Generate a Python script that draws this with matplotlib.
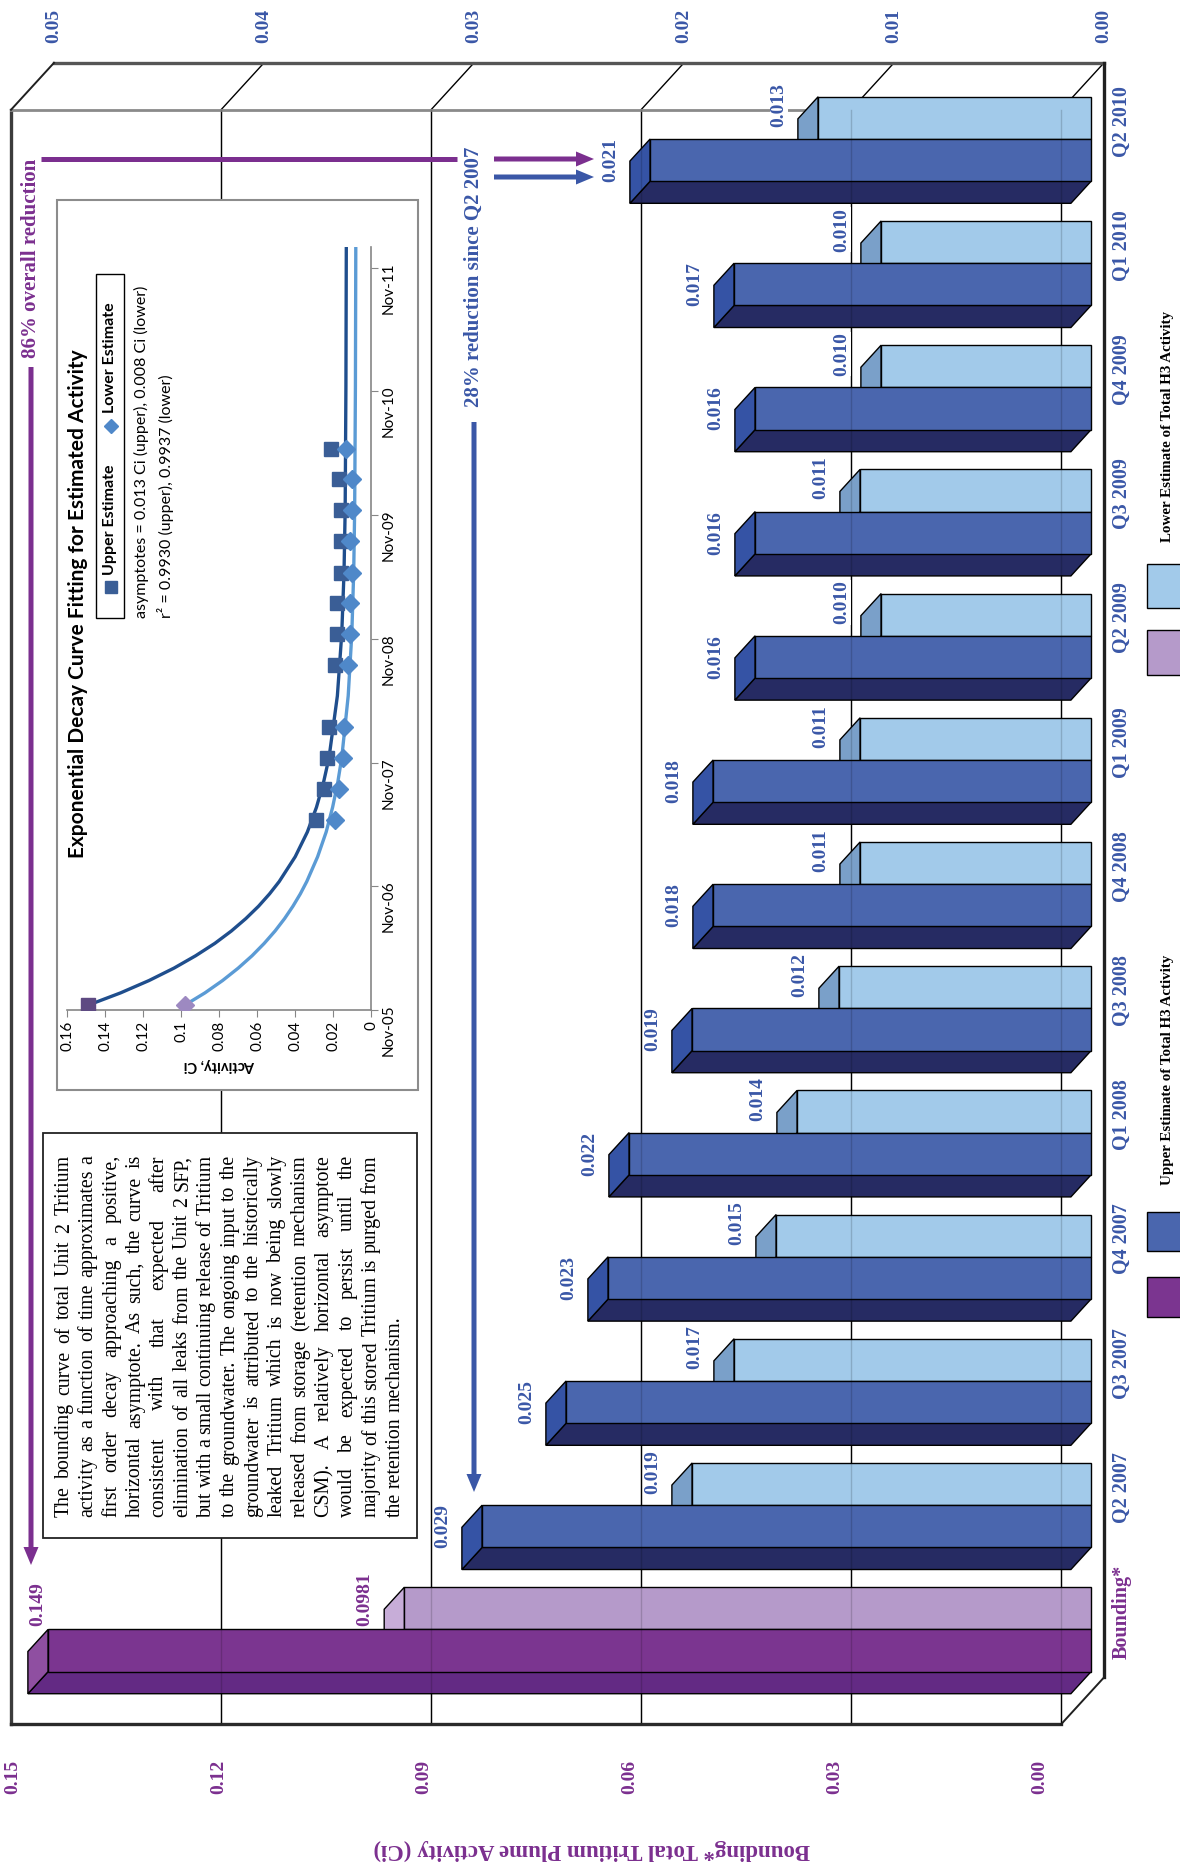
import datetime as dt
import numpy as np
import matplotlib
matplotlib.use("Agg")
import matplotlib.pyplot as plt
import matplotlib.dates as mdates
from matplotlib.patches import Polygon, Rectangle

# ---------------- data ----------------
categories = ["Bounding*", "Q2 2007", "Q3 2007", "Q4 2007", "Q1 2008", "Q3 2008",
              "Q4 2008", "Q1 2009", "Q2 2009", "Q3 2009", "Q4 2009", "Q1 2010", "Q2 2010"]
bounding_upper = 0.149
bounding_lower = 0.0981
quarter_upper = [0.029, 0.025, 0.023, 0.022, 0.019, 0.018, 0.018, 0.016, 0.016, 0.016, 0.017, 0.021]
quarter_lower = [0.019, 0.017, 0.015, 0.014, 0.012, 0.011, 0.011, 0.010, 0.011, 0.010, 0.010, 0.013]
primary_ticks = [0.00, 0.03, 0.06, 0.09, 0.12, 0.15]
secondary_ticks = [0.00, 0.01, 0.02, 0.03, 0.04, 0.05]

# exponential decay fit inset
sample_dates = ["2005-11-15", "2007-05-15", "2007-08-15", "2007-11-15", "2008-02-15",
                "2008-08-15", "2008-11-15", "2009-02-15", "2009-05-15", "2009-08-15",
                "2009-11-15", "2010-02-15", "2010-05-15"]
fit_years = [0, 0.1, 0.2, 0.3, 0.4, 0.5, 0.6, 0.7, 0.8, 0.9, 1.0, 1.2, 1.4, 1.6, 1.8,
             2.0, 2.5, 3.0, 3.5, 4.0, 5.0, 6.13]
fit_upper = [0.149, 0.1318, 0.1168, 0.1037, 0.0923, 0.0822, 0.0735, 0.0659, 0.0592, 0.0534,
             0.0483, 0.0399, 0.0335, 0.0287, 0.0250, 0.0221, 0.0177, 0.0154, 0.0142, 0.0136,
             0.0132, 0.0130]
fit_lower = [0.0981, 0.0874, 0.0781, 0.0699, 0.0626, 0.0562, 0.0505, 0.0455, 0.0411, 0.0372,
             0.0338, 0.0281, 0.0236, 0.0202, 0.0175, 0.0154, 0.0120, 0.0101, 0.0091, 0.0086,
             0.0082, 0.0080]
inset_ticks = [0, 0.02, 0.04, 0.06, 0.08, 0.1, 0.12, 0.14, 0.16]

note_lines = [
    "The bounding curve of total Unit 2 Tritium",
    "activity as a function of time approximates a",
    "first order decay approaching a positive,",
    "horizontal asymptote. As such, the curve is",
    "consistent with that expected after",
    "elimination of all leaks from the Unit 2 SFP,",
    "but with a small continuing release of Tritium",
    "to the groundwater. The ongoing input to the",
    "groundwater is attributed to the historically",
    "leaked Tritium which is now being slowly",
    "released from storage (retention mechanism",
    "CSM). A relatively horizontal asymptote",
    "would be expected to persist until the",
    "majority of this stored Tritium is purged from",
    "the retention mechanism.",
]

# ---------------- styling ----------------
PURPLE = "#7B2F8F"
BLUE = "#3A57A7"
purple_dark = ("#7B3590", "#8F4FA1", "#632A84")    # front, end cap, side
purple_light = ("#B59ACA", "#C7ADD8", "#9C80B5")
blue_dark = ("#4A66AE", "#3553A5", "#262B63")
blue_light = ("#A2CAEA", "#7AA0C9", "#87AFD3")

plt.rcParams["font.family"] = ["Liberation Serif", "DejaVu Serif"]
SANS = ["Lato", "DejaVu Sans"]

W, H = 1180, 1864
fig = plt.figure(figsize=(W / 100, H / 100), dpi=100)
fig.patch.set_facecolor("white")

# chart geometry (the column chart is laid on its side)
VAL_PX = 7000.0       # pixels per Ci on the primary value axis
X0 = 1104.0           # pixel column of zero on the front plane
CAT_PX = 124.2        # pixels per category step
Y0 = 1615.3           # pixel row of the first category on the front plane
DX = 43 / VAL_PX      # depth shift, value units
DY = -47 / CAT_PX     # depth shift, category units
SEC = primary_ticks[-1] / secondary_ticks[-1]
D1, D2 = 0.30, 0.77   # depth range occupied by bars
HALF = 0.34           # bar thickness in category units
C_LO, C_HI = -0.5, len(categories) - 0.5
VMAX = primary_ticks[-1]

ax = fig.add_axes([0, 0, 1, 1])
ax.set_xlim(X0 / VAL_PX, (X0 - W) / VAL_PX)
ax.set_ylim((Y0 - H) / CAT_PX, Y0 / CAT_PX)
ax.axis("off")
ax2 = ax.twiny()
ax2.set_xlim(ax.get_xlim()[0] / SEC, ax.get_xlim()[1] / SEC)
ax2.axis("off")

ov = fig.add_axes([0, 0, 1, 1])
ov.set_xlim(0, W)
ov.set_ylim(H, 0)
ov.axis("off")
ov.set_zorder(2)


def P(v, c, d, s=1.0):
    return (v + d * DX / s, c + d * DY)


def seg(a, p, q, **kw):
    a.plot([p[0], q[0]], [p[1], q[1]], solid_capstyle="projecting", **kw)


# walls, floor and gridlines
for v in primary_ticks[:-1]:
    seg(ax, P(v, C_LO, 1), P(v, C_HI, 1), color="black", lw=1.0, zorder=1)
    seg(ax, P(v, C_HI, 1), P(v, C_HI, 0), color="black", lw=1.0, zorder=1)
seg(ax, P(VMAX, C_LO, 1), P(VMAX, C_HI, 1), color="#3c3c3c", lw=2.4, zorder=2)
seg(ax, P(0, C_LO, 1), P(VMAX, C_LO, 1), color="#2a2a2a", lw=2.4, zorder=2)
seg(ax, P(0, C_HI, 1), P(VMAX, C_HI, 1), color="#8a8a8a", lw=2.0, zorder=2)
seg(ax, P(0, C_HI, 0), P(VMAX, C_HI, 0), color="#555555", lw=2.4, zorder=2)
seg(ax, P(0, C_LO, 0), P(0, C_HI, 0), color="#202020", lw=2.4, zorder=2)
seg(ax, P(0, C_LO, 0), P(0, C_LO, 1), color="#202020", lw=1.4, zorder=2)
seg(ax, P(VMAX, C_HI, 0), P(VMAX, C_HI, 1), color="#202020", lw=1.4, zorder=2)


def bar3d(a, value, c0, c1, colors, s):
    faces = [
        ([P(0, c0, D1, s), P(value, c0, D1, s), P(value, c0, D2, s), P(0, c0, D2, s)], colors[2]),
        ([P(value, c0, D1, s), P(value, c1, D1, s), P(value, c1, D2, s), P(value, c0, D2, s)], colors[1]),
        ([P(0, c0, D1, s), P(value, c0, D1, s), P(value, c1, D1, s), P(0, c1, D1, s)], colors[0]),
    ]
    for pts, fc in faces:
        a.add_patch(Polygon(pts, closed=True, facecolor=fc, edgecolor="black",
                            lw=1.0, zorder=3, joinstyle="miter"))


LBL_GAP = 19 / VAL_PX
val_font = dict(fontsize=14, fontweight="bold", rotation=90, ha="center", va="center")

# bounding estimate (primary axis)
bar3d(ax, bounding_lower, 0, HALF, purple_light, 1.0)
bar3d(ax, bounding_upper, -HALF, 0, purple_dark, 1.0)
ax.text(bounding_lower + D2 * DX + LBL_GAP, HALF / 2 + D1 * DY + 0.07,
        f"{bounding_lower:g}", color=PURPLE, zorder=6, **val_font)
ax.text(bounding_upper + 0.535 * DX, 0.09, f"{bounding_upper:g}", color=PURPLE, zorder=6, **val_font)

# quarterly estimates (secondary axis)
for j, (u, l) in enumerate(zip(quarter_upper, quarter_lower), start=1):
    bar3d(ax2, l, j, j + HALF, blue_light, SEC)
    bar3d(ax2, u, j - HALF, j, blue_dark, SEC)
    ax2.text(l + (D2 * DX + LBL_GAP) / SEC, j + HALF / 2 + D1 * DY + 0.1, f"{l:.3f}",
             color=BLUE, zorder=6, bbox=dict(fc="white", ec="none", pad=0.3), **val_font)
    ax2.text(u + (D2 * DX + LBL_GAP) / SEC, j - HALF / 2 + D1 * DY, f"{u:.3f}",
             color=BLUE, zorder=6, **val_font)

# gridlines faintly showing through the bars
for v in primary_ticks[:-1]:
    seg(ax2, P(v / SEC, C_LO, 1, SEC), P(v / SEC, C_HI, 1, SEC), color="black", lw=1.0,
        alpha=0.16, zorder=5)

# category labels along the floor edge
for j, name in enumerate(categories):
    ax.text(-18 / VAL_PX, j + 0.03, name, rotation=90, ha="center", va="center",
            fontsize=14.5, fontweight="bold", color=PURPLE if j == 0 else BLUE)

# value axes
for v in primary_ticks:
    ax.text(0.00914 + 0.978 * v, -1.302, f"{v:.2f}", rotation=90, ha="center", va="center",
            fontsize=14, fontweight="bold", color=PURPLE)
for v in secondary_ticks:
    ax2.text(v, 12.796, f"{v:.2f}", rotation=90, ha="center", va="center",
             fontsize=14, fontweight="bold", color=BLUE)
ov.text(592, 1850, "Bounding* Total Tritium Plume Activity (Ci)", rotation=180,
        ha="center", va="center", fontsize=16.5, fontweight="bold", color=PURPLE)

# legend
ov.add_patch(Rectangle((1147, 1277), 45, 40, fc=purple_dark[0], ec="black", lw=1.0))
ov.add_patch(Rectangle((1147, 1212), 45, 39, fc=blue_dark[0], ec="black", lw=1.0))
ov.text(1168, 1070, "Upper Estimate of Total H3 Activity", rotation=90, ha="center",
        va="center", fontsize=10.8, fontweight="bold", color="black")
ov.add_patch(Rectangle((1147, 630), 45, 45, fc=purple_light[0], ec="black", lw=1.0))
ov.add_patch(Rectangle((1147, 564), 45, 44, fc=blue_light[0], ec="black", lw=1.0))
ov.text(1168, 426, "Lower Estimate of Total H3 Activity", rotation=90, ha="center",
        va="center", fontsize=10.8, fontweight="bold", color="black")

# reduction call-outs
ARW = dict(width=5, head_width=15, head_length=18, length_includes_head=True, lw=0)
ov.text(31, 258, "86% overall reduction", rotation=90, ha="center", va="center",
        fontsize=15, fontweight="bold", color=PURPLE)
ov.plot([41, 457], [159, 159], color=PURPLE, lw=3.6, solid_capstyle="butt")
ov.arrow(494, 159, 100, 0, color=PURPLE, **ARW)
ov.arrow(31, 367, 0, 1565 - 367, color=PURPLE, **ARW)
ov.text(474, 277, "28% reduction since Q2 2007", rotation=90, ha="center", va="center",
        fontsize=15, fontweight="bold", color=BLUE)
ov.arrow(494, 177, 100, 0, color=BLUE, **ARW)
ov.arrow(474, 422, 0, 1492 - 422, color=BLUE, **ARW)

# explanatory note, fully justified
ov.add_patch(Rectangle((43, 1133), 374, 405, fc="white", ec="#222222", lw=1.3, zorder=1))
renderer = fig.canvas.get_renderer()
NOTE_FS = 14.3
LINE_LEN = 362


def word_width(w):
    t = fig.text(0, 0, w, fontsize=NOTE_FS)
    width = t.get_window_extent(renderer).width
    t.remove()
    return width


space_w = word_width("a b") - word_width("ab")
for i, line in enumerate(note_lines):
    words = line.split()
    widths = [word_width(w) for w in words]
    last = i == len(note_lines) - 1
    gap = space_w if (last or len(words) < 2) else (LINE_LEN - sum(widths)) / (len(words) - 1)
    y = 1517
    x = 62 + 23.6 * i
    for w, wd in zip(words, widths):
        ov.text(x, y, w, rotation=90, rotation_mode="anchor", ha="left", va="center_baseline",
                fontsize=NOTE_FS, color="black", zorder=3)
        y -= wd + gap

# ---------------- inset: decay curve fit ----------------
ov.add_patch(Rectangle((57, 200), 361, 890, fc="white", ec="#8c8c8c", lw=1.5, zorder=1))
ov.text(78, 604, "Exponential Decay Curve Fitting for Estimated Activity", rotation=90,
        ha="center", va="center", fontsize=15, fontweight="bold", family=SANS, zorder=3)
ov.add_patch(Rectangle((96, 274), 28, 344, fc="white", ec="black", lw=1.0, zorder=2))
ov.plot([111], [587], "s", ms=8, color="#3A5E96", zorder=3)
ov.text(110, 575, "Upper Estimate", rotation=90, rotation_mode="anchor", ha="left", va="center",
        fontsize=11.5, fontweight="bold", family=SANS, zorder=3)
ov.plot([111], [426], "D", ms=7, color="#4F88C9", zorder=3)
ov.text(110, 413, "Lower Estimate", rotation=90, rotation_mode="anchor", ha="left", va="center",
        fontsize=11.5, fontweight="bold", family=SANS, zorder=3)
ov.text(141, 618, "asymptotes = 0.013 Ci (upper), 0.008 Ci (lower)", rotation=90,
        rotation_mode="anchor", ha="left", va="center", fontsize=11.5, family=SANS, zorder=3)
ov.text(166, 618, "r² = 0.9930 (upper), 0.9937 (lower)", rotation=90,
        rotation_mode="anchor", ha="left", va="center", fontsize=11.5, family=SANS, zorder=3)

axi = fig.add_axes([67 / W, 1 - 1010 / H, (371 - 67) / W, (1010 - 247) / H])
axi.set_zorder(3)
axi.patch.set_visible(False)
t_dates = [dt.datetime.strptime(s, "%Y-%m-%d") for s in sample_dates]
fit_dates = [t_dates[0] + dt.timedelta(days=365.25 * y) for y in fit_years]
ups = [bounding_upper] + quarter_upper
lows = [bounding_lower] + quarter_lower
axi.plot(fit_upper, fit_dates, color="#1F4E8D", lw=2.4, zorder=2)
axi.plot(fit_lower, fit_dates, color="#5B9BD5", lw=2.4, zorder=2)
axi.plot(ups[1:], t_dates[1:], "s", ms=10, color="#3A5E96", zorder=3)
axi.plot(ups[:1], t_dates[:1], "s", ms=10, color="#5E4A82", zorder=3)
axi.plot(lows[1:], t_dates[1:], "D", ms=9, color="#4F88C9", zorder=4)
axi.plot(lows[:1], t_dates[:1], "D", ms=9, color="#9D89C1", zorder=4)
axi.set_xlim(0.16, 0)
axi.set_ylim(dt.datetime(2005, 11, 1), dt.datetime(2012, 1, 1))
for side in ("left", "top"):
    axi.spines[side].set_visible(False)
for side in ("bottom", "right"):
    axi.spines[side].set_color("#868686")
    axi.spines[side].set_linewidth(1.2)
axi.yaxis.tick_right()
axi.set_yticks([dt.datetime(y, 11, 1) for y in range(2005, 2012)])
axi.yaxis.set_major_formatter(mdates.DateFormatter("%b-%y"))
axi.set_xticks(inset_ticks)
axi.set_xticklabels([f"{t:g}" for t in inset_ticks])
axi.tick_params(axis="both", labelsize=11, direction="out", length=5, color="#868686", pad=3)
axi.tick_params(axis="x", labelrotation=90)
axi.tick_params(axis="y", labelrotation=90)
for lab in axi.get_xticklabels() + axi.get_yticklabels():
    lab.set_family(SANS)
axi.set_xlabel("Activity, Ci", rotation=180, fontsize=10.5, fontweight="bold", family=SANS,
               labelpad=5)

fig.savefig("out.png", dpi=100, facecolor="white")
